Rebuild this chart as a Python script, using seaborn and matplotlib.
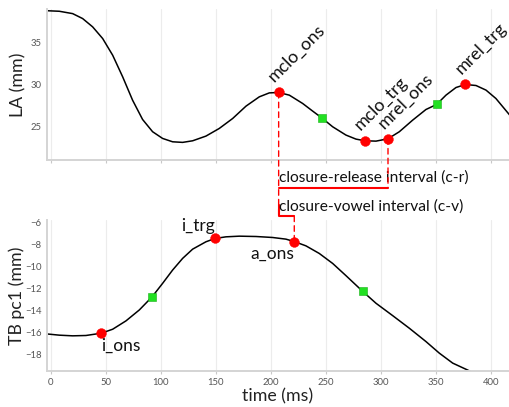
import matplotlib
matplotlib.use("Agg")
import matplotlib.pyplot as plt
import seaborn as sns
import pandas as pd
from matplotlib.transforms import blended_transform_factory
from matplotlib.patches import ConnectionPatch
from matplotlib.lines import Line2D

# ---- data ----
la_time = [-4.5, 7.6, 19.7, 28.8, 37.9, 47.0, 56.1, 65.2, 74.2, 83.3, 92.4, 101.5,
           110.6, 119.7, 128.8, 140.9, 153.0, 165.2, 177.3, 189.4, 198.5, 207.0,
           216.7, 228.8, 237.9, 246.4, 256.1, 268.2, 277.3, 285.5, 295.5, 306.4,
           316.7, 328.8, 340.9, 350.6, 359.1, 368.2, 376.7, 386.4, 395.5, 404.5,
           415.8, 418.0]
la_value = [38.8, 38.73, 38.45, 37.86, 36.87, 35.48, 33.49, 30.91, 28.13, 25.83,
            24.37, 23.57, 23.17, 23.1, 23.29, 23.85, 24.76, 25.95, 27.42, 28.53,
            29.0, 29.05, 28.73, 27.74, 26.83, 26.0, 24.96, 23.97, 23.49, 23.29,
            23.25, 23.53, 24.37, 25.75, 27.02, 27.62, 28.73, 29.64, 30.0, 29.88,
            29.33, 28.33, 26.55, 26.2]

tb_time = [-4.5, 7.6, 19.7, 31.8, 45.8, 56.1, 68.2, 80.3, 91.8, 101.5, 110.6, 119.7,
           128.8, 140.9, 149.1, 159.1, 171.2, 186.4, 201.5, 213.6, 221.2, 231.8,
           243.9, 256.1, 268.2, 283.3, 295.5, 310.6, 325.8, 340.9, 353.0, 365.2,
           378.8, 384.0]
tb_value = [-16.15, -16.27, -16.33, -16.3, -16.09, -15.73, -14.97, -13.98, -12.8,
            -11.56, -10.35, -9.29, -8.45, -7.78, -7.48, -7.33, -7.27, -7.3, -7.39,
            -7.54, -7.76, -8.15, -8.84, -9.75, -10.86, -12.28, -13.37, -14.49,
            -15.64, -16.85, -17.9, -18.81, -19.44, -19.7]

la_mark_names = ["mclo_ons", "mclo_trg", "mrel_ons", "mrel_trg"]
la_mark_time = [207.0, 285.5, 306.4, 376.7]
la_mark_value = [29.05, 23.29, 23.53, 30.0]
la_vel_time = [246.4, 350.6]
la_vel_value = [26.0, 27.62]

tb_mark_names = ["i_ons", "i_trg", "a_ons"]
tb_mark_time = [45.8, 149.1, 221.2]
tb_mark_value = [-16.09, -7.48, -7.76]
tb_vel_time = [91.8, 283.3]
tb_vel_value = [-12.8, -12.28]

x_ticks = [0, 50, 100, 150, 200, 250, 300, 350, 400]
la_ticks = [25, 30, 35]
tb_ticks = [-18, -16, -14, -12, -10, -8, -6]

label_cr = "closure-release interval (c-r)"
label_cv = "closure-vowel interval (c-v)"

# ---- style ----
sns.set_theme(style="white")
plt.rcParams["font.family"] = ["Lato", "DejaVu Sans"]

RED = "#ff0000"
GREEN = "#22e022"
SPINE = "#d4d4d4"
GRID = "#ececec"

fig = plt.figure(figsize=(5.09, 4.07), dpi=100)
W, H = 509, 407
ax1 = fig.add_axes([47 / W, 1 - 160 / H, (509 - 47) / W, 151 / H])
ax2 = fig.add_axes([47 / W, 1 - 370.7 / H, (509 - 47) / W, 150.7 / H])

la_df = pd.DataFrame({"time": la_time, "value": la_value})
tb_df = pd.DataFrame({"time": tb_time, "value": tb_value})

for ax in (ax1, ax2):
    ax.set_xlim(-3.6, 416.4)
    ax.set_xticks(x_ticks)
    ax.grid(axis="x", color=GRID, linewidth=0.8)
    ax.grid(axis="y", visible=False)
    ax.set_axisbelow(True)
    for s in ("top", "right"):
        ax.spines[s].set_visible(False)
    for s in ("left", "bottom"):
        ax.spines[s].set_color(SPINE)
        ax.spines[s].set_linewidth(1.4)
    ax.tick_params(axis="x", length=2.5, width=0.8, color="#c8c8c8",
                   labelsize=6.8, labelcolor="#555555", pad=3, direction="out",
                   bottom=True)
    ax.tick_params(axis="y", length=0, labelsize=6.8, labelcolor="#555555", pad=4)

ax1.set_ylim(21, 39)
ax1.set_yticks(la_ticks)
ax1.set_xticklabels([])
ax2.set_ylim(-19.5, -5.8)
ax2.set_yticks(tb_ticks)

sns.lineplot(data=la_df, x="time", y="value", ax=ax1, color="black",
             linewidth=1.1, sort=False)
sns.lineplot(data=tb_df, x="time", y="value", ax=ax2, color="black",
             linewidth=1.1, sort=False)

sns.scatterplot(x=la_vel_time, y=la_vel_value, ax=ax1, marker="s", s=28,
                color=GREEN, edgecolor="#18b018", linewidth=0.4, zorder=4)
sns.scatterplot(x=tb_vel_time, y=tb_vel_value, ax=ax2, marker="s", s=28,
                color=GREEN, edgecolor="#18b018", linewidth=0.4, zorder=4)
sns.scatterplot(x=la_mark_time, y=la_mark_value, ax=ax1, marker="o", s=50,
                color=RED, edgecolor=RED, linewidth=0.3, zorder=5)
sns.scatterplot(x=tb_mark_time, y=tb_mark_value, ax=ax2, marker="o", s=50,
                color=RED, edgecolor=RED, linewidth=0.3, zorder=5)

ax1.set_xlabel("")
ax1.set_ylabel("LA (mm)", fontsize=12.8, color="#222222")
ax1.yaxis.set_label_coords(-0.045, 0.5)
ax2.set_ylabel("TB pc1 (mm)", fontsize=12.8, color="#222222")
ax2.yaxis.set_label_coords(-0.047, 0.5)
ax2.set_xlabel("time (ms)", fontsize=12.8, color="#222222")
ax2.xaxis.set_label_coords(0.5, -0.115)

# rotated labels on the LA curve
for name, t, v in zip(la_mark_names, la_mark_time, la_mark_value):
    ax1.annotate(name, (t, v), xytext=(-3.0, 7.0), textcoords="offset points",
                 rotation=45, rotation_mode="anchor", ha="left", va="baseline",
                 fontsize=12.8, color="#111111", zorder=6)

# labels on the TB curve
tb_offsets = [(0, -3), (0, 3.5), (0, -3)]
tb_align = [("left", "top"), ("right", "bottom"), ("right", "top")]
for name, t, v, off, (ha, va) in zip(tb_mark_names, tb_mark_time, tb_mark_value,
                                      tb_offsets, tb_align):
    ax2.annotate(name, (t, v), xytext=off, textcoords="offset points",
                 ha=ha, va=va, fontsize=12.5, color="#111111", zorder=6)

# ---- interval annotations between the panels ----
trans = blended_transform_factory(ax1.transData, ax1.transAxes)
t_clo = la_mark_time[0]
t_rel = la_mark_time[2]
t_vow = tb_mark_time[2]
y_cr = -0.183
y_cv = -0.371

dash = dict(color=RED, linewidth=1.0, linestyle=(0, (4, 3)))
con1 = ConnectionPatch(xyA=(t_clo, la_mark_value[0]), coordsA=ax1.transData,
                       xyB=(t_clo, y_cv), coordsB=trans, **dash)
fig.add_artist(con1)
con2 = ConnectionPatch(xyA=(t_rel, la_mark_value[2]), coordsA=ax1.transData,
                       xyB=(t_rel, y_cr), coordsB=trans, **dash)
fig.add_artist(con2)
con3 = ConnectionPatch(xyA=(t_vow, y_cv), coordsA=trans,
                       xyB=(t_vow, tb_mark_value[2]), coordsB=ax2.transData, **dash)
fig.add_artist(con3)

ax1.add_line(Line2D([t_clo, t_rel], [y_cr, y_cr], transform=trans, color=RED,
                    linewidth=1.5, clip_on=False))
ax1.add_line(Line2D([t_clo, t_clo, t_vow], [y_cv + 0.07, y_cv, y_cv],
                    transform=trans, color=RED, linewidth=1.5, clip_on=False))

ax1.text(t_clo, -0.117, label_cr, transform=trans, ha="left", va="center",
         fontsize=11.2, color="#111111", clip_on=False, zorder=6)
ax1.text(t_clo, -0.305, label_cv, transform=trans, ha="left", va="center",
         fontsize=11.2, color="#111111", clip_on=False, zorder=6)

fig.savefig("out.png", dpi=100)
